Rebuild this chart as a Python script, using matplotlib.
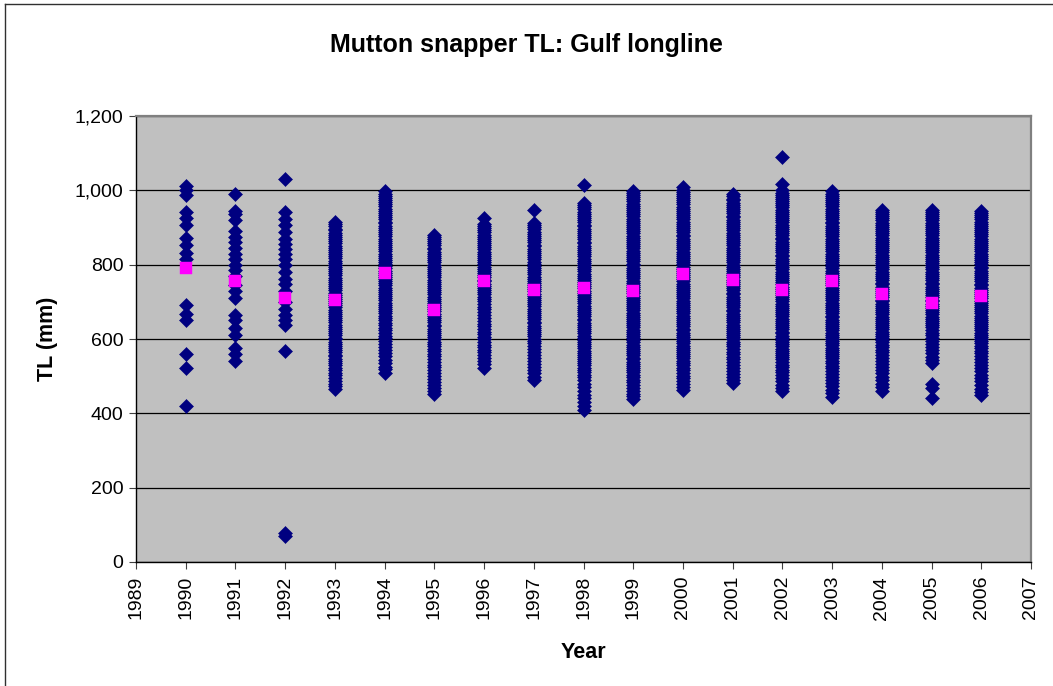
import matplotlib
matplotlib.use("Agg")
import matplotlib.pyplot as plt
from matplotlib.lines import Line2D
from matplotlib.ticker import FuncFormatter, MultipleLocator

# Total length (mm) of individual fish sampled each year
tl_1990 = [1012, 1000, 988, 943, 925, 908, 872, 852, 832, 814, 691, 668, 650, 559, 523, 420]
tl_1991 = [990, 945, 935, 920, 890, 875, 860, 845, 830, 815, 800, 785, 770, 745, 730, 710,
           665, 650, 630, 610, 575, 560, 540]
tl_1992 = [1031, 943, 924, 906, 888, 870, 856, 843, 830, 816, 798, 780, 762, 749, 730, 700,
           682, 664, 650, 639, 568, 78, 70]
tl_1993 = [915, 909, 903, 897, 892, 886, 880, 875, 869, 863, 857, 851, 846, 840, 834, 828,
           823, 817, 811, 805, 800, 794, 788, 782, 777, 771, 765, 760, 754, 748, 742, 737,
           731, 725, 719, 714, 708, 702, 696, 691, 685, 679, 673, 668, 662, 656, 650, 645,
           639, 633, 627, 622, 616, 610, 604, 599, 593, 587, 581, 576, 570, 564, 558, 553,
           547, 541, 535, 529, 522, 516, 509, 502, 495, 487, 480, 473, 466]
tl_1994 = [997, 991, 985, 980, 974, 968, 962, 957, 951, 945, 939, 934, 928, 922, 916, 911,
           905, 899, 893, 888, 882, 876, 870, 865, 859, 853, 847, 842, 836, 830, 824, 819,
           813, 807, 801, 796, 790, 784, 778, 773, 767, 761, 755, 750, 744, 738, 732, 727,
           721, 715, 709, 704, 698, 692, 686, 681, 675, 669, 663, 657, 650, 644, 637, 630,
           623, 616, 609, 602, 594, 586, 578, 570, 562, 553, 544, 535, 526, 518, 509]
tl_1995 = [881, 875, 869, 864, 858, 852, 846, 841, 835, 829, 823, 818, 812, 806, 800, 795,
           789, 783, 777, 772, 766, 760, 754, 749, 743, 737, 731, 726, 720, 714, 708, 703,
           697, 691, 685, 680, 674, 668, 662, 657, 651, 645, 639, 634, 628, 622, 616, 611,
           605, 599, 593, 587, 580, 574, 567, 560, 553, 546, 539, 531, 524, 516, 508, 500,
           492, 484, 476, 468, 460, 451]
tl_1996 = [926, 910, 904, 898, 893, 887, 881, 875, 870, 864, 858, 852, 847, 841, 835, 829,
           824, 818, 812, 806, 801, 795, 789, 783, 778, 772, 766, 760, 755, 749, 743, 737,
           732, 726, 720, 714, 708, 701, 694, 687, 680, 672, 664, 656, 648, 641, 634, 627,
           620, 613, 606, 599, 592, 585, 578, 571, 564, 557, 549, 541, 532, 523]
tl_1997 = [948, 912, 906, 900, 895, 889, 883, 877, 872, 866, 860, 854, 849, 843, 837, 831,
           826, 820, 814, 808, 803, 797, 791, 785, 780, 774, 768, 762, 757, 751, 745, 739,
           734, 728, 722, 716, 711, 705, 699, 693, 688, 682, 676, 670, 665, 659, 653, 647,
           642, 636, 630, 624, 619, 613, 607, 601, 595, 588, 581, 574, 566, 558, 550, 542,
           534, 525, 516, 508, 499, 491]
tl_1998 = [1015, 966, 960, 954, 949, 943, 937, 931, 926, 920, 914, 908, 903, 897, 891, 885,
           880, 874, 868, 862, 857, 851, 845, 839, 834, 828, 822, 816, 811, 805, 799, 793,
           788, 782, 776, 770, 765, 759, 753, 747, 742, 736, 730, 724, 719, 713, 707, 701,
           696, 690, 684, 678, 673, 667, 661, 655, 650, 644, 638, 632, 627, 621, 615, 609,
           604, 598, 592, 586, 581, 575, 569, 563, 558, 552, 546, 540, 535, 529, 523, 517,
           511, 504, 497, 489, 480, 470, 460, 450, 440, 430, 420, 409]
tl_1999 = [999, 993, 987, 982, 976, 970, 964, 959, 953, 947, 941, 936, 930, 924, 918, 913,
           907, 901, 895, 890, 884, 878, 872, 867, 861, 855, 849, 844, 838, 832, 826, 821,
           815, 809, 803, 798, 792, 786, 780, 775, 769, 763, 757, 752, 746, 740, 734, 729,
           723, 717, 711, 706, 700, 694, 688, 683, 677, 671, 665, 660, 654, 648, 642, 637,
           631, 625, 619, 614, 608, 602, 596, 591, 585, 579, 573, 568, 562, 556, 550, 545,
           539, 533, 527, 522, 516, 510, 504, 498, 491, 484, 476, 468, 460, 452, 446, 439]
tl_2000 = [1008, 1002, 996, 991, 985, 979, 973, 968, 962, 956, 950, 945, 939, 933, 927, 922,
           916, 910, 904, 899, 893, 887, 881, 876, 870, 864, 858, 853, 847, 841, 835, 830,
           824, 818, 812, 807, 801, 795, 789, 784, 778, 772, 766, 761, 755, 749, 743, 738,
           732, 726, 720, 715, 709, 703, 697, 692, 686, 680, 674, 669, 663, 657, 651, 646,
           640, 634, 628, 623, 617, 611, 605, 600, 594, 588, 582, 577, 571, 565, 559, 554,
           548, 542, 536, 530, 523, 516, 509, 501, 494, 486, 479, 471, 464]
tl_2001 = [990, 984, 978, 973, 967, 961, 955, 950, 944, 938, 932, 927, 921, 915, 909, 904,
           898, 892, 886, 881, 875, 869, 863, 858, 852, 846, 840, 835, 829, 823, 817, 812,
           806, 800, 794, 789, 783, 777, 771, 766, 760, 754, 748, 743, 737, 731, 725, 720,
           714, 708, 702, 697, 691, 685, 679, 674, 668, 662, 656, 651, 645, 639, 633, 628,
           622, 616, 610, 605, 599, 593, 587, 580, 573, 566, 559, 552, 545, 538, 530, 522,
           514, 506, 498, 489, 481]
tl_2002 = [1090, 1017, 1000, 994, 988, 983, 977, 971, 965, 960, 954, 948, 942, 937, 931, 925,
           919, 914, 908, 902, 896, 891, 885, 879, 873, 868, 862, 856, 850, 845, 839, 833,
           827, 822, 816, 810, 804, 799, 793, 787, 781, 776, 770, 764, 758, 753, 747, 741,
           735, 730, 724, 718, 712, 707, 701, 695, 689, 684, 678, 672, 666, 661, 655, 649,
           643, 638, 632, 626, 620, 615, 609, 603, 597, 592, 586, 580, 574, 569, 563, 557,
           551, 545, 538, 531, 524, 517, 510, 502, 494, 486, 477, 468, 460]
tl_2003 = [997, 991, 985, 980, 974, 968, 962, 957, 951, 945, 939, 934, 928, 922, 916, 911,
           905, 899, 893, 888, 882, 876, 870, 865, 859, 853, 847, 842, 836, 830, 824, 819,
           813, 807, 801, 796, 790, 784, 778, 773, 767, 761, 755, 750, 744, 738, 732, 727,
           721, 715, 709, 704, 698, 692, 686, 681, 675, 669, 663, 658, 652, 646, 640, 635,
           629, 623, 617, 612, 606, 600, 594, 589, 583, 577, 571, 566, 560, 554, 548, 542,
           535, 528, 521, 514, 506, 498, 490, 482, 473, 464, 455, 445]
tl_2004 = [948, 942, 936, 931, 925, 919, 913, 908, 902, 896, 890, 885, 879, 873, 867, 862,
           856, 850, 844, 839, 833, 827, 821, 816, 810, 804, 798, 793, 787, 781, 775, 770,
           764, 758, 752, 747, 741, 735, 729, 724, 718, 712, 706, 701, 695, 689, 683, 678,
           672, 666, 660, 655, 649, 643, 637, 632, 626, 620, 614, 609, 603, 597, 591, 585,
           578, 571, 564, 557, 549, 541, 533, 525, 517, 508, 499, 490, 480, 470, 460]
tl_2005 = [948, 942, 936, 931, 925, 919, 913, 908, 902, 896, 890, 885, 879, 873, 867, 862,
           856, 850, 844, 839, 833, 827, 821, 816, 810, 804, 798, 793, 787, 781, 775, 770,
           764, 758, 752, 747, 741, 735, 729, 724, 718, 712, 706, 701, 695, 689, 683, 678,
           672, 666, 660, 655, 649, 643, 637, 631, 624, 617, 610, 602, 594, 586, 578, 570,
           561, 552, 543, 535, 480, 468, 440]
tl_2006 = [945, 939, 933, 928, 922, 916, 910, 905, 899, 893, 887, 882, 876, 870, 864, 859,
           853, 847, 841, 836, 830, 824, 818, 813, 807, 801, 795, 790, 784, 778, 772, 767,
           761, 755, 749, 744, 738, 732, 726, 721, 715, 709, 703, 698, 692, 686, 680, 675,
           669, 663, 657, 652, 646, 640, 634, 629, 623, 617, 611, 606, 600, 594, 588, 582,
           575, 568, 561, 554, 546, 538, 530, 522, 513, 504, 495, 486, 476, 466, 457, 448]

years = list(range(1990, 2007))
mean_tl = [790, 756, 711, 706, 778, 679, 756, 733, 737, 728, 774, 760, 733, 756, 720, 698, 715]

samples = [tl_1990, tl_1991, tl_1992, tl_1993, tl_1994, tl_1995, tl_1996, tl_1997, tl_1998,
           tl_1999, tl_2000, tl_2001, tl_2002, tl_2003, tl_2004, tl_2005, tl_2006]

plt.rcParams["font.family"] = ["Liberation Sans", "DejaVu Sans"]

W, H = 1053, 686
fig = plt.figure(figsize=(W / 100, H / 100), dpi=100)
fig.patch.set_facecolor("white")

# chart-area frame (left and top edges)
fig.add_artist(Line2D([5 / W, 5 / W], [0, 1 - 4 / H], transform=fig.transFigure,
                      color="#303030", lw=1.0))
fig.add_artist(Line2D([5 / W, 1], [1 - 4 / H, 1 - 4 / H], transform=fig.transFigure,
                      color="#303030", lw=1.0))

left, right, top, bottom = 136, 1031, 116, 562
ax = fig.add_axes([left / W, 1 - bottom / H, (right - left) / W, (bottom - top) / H])
ax.set_facecolor("#C0C0C0")

for yr, vals in zip(years, samples):
    ax.plot([yr] * len(vals), vals, linestyle="none", marker="D", markersize=7.6,
            markerfacecolor="#000080", markeredgecolor="#000080", markeredgewidth=0.4,
            zorder=3)

ax.plot(years, mean_tl, linestyle="none", marker="s", markersize=8.4,
        markerfacecolor="#FF00FF", markeredgecolor="#FF00FF", markeredgewidth=0.3, zorder=4)

ax.set_xlim(1989, 2007)
ax.set_ylim(0, 1200)
ax.xaxis.set_major_locator(MultipleLocator(1))
ax.yaxis.set_major_locator(MultipleLocator(200))
ax.yaxis.set_major_formatter(FuncFormatter(lambda v, p: f"{int(v):,}"))

ax.grid(axis="y", color="black", linewidth=0.9, zorder=1)
ax.set_axisbelow(True)

for s in ("left", "bottom"):
    ax.spines[s].set_color("black")
    ax.spines[s].set_linewidth(1.0)
for s in ("top", "right"):
    ax.spines[s].set_color("#808080")
    ax.spines[s].set_linewidth(1.6)

ax.tick_params(axis="both", direction="out", length=5, width=0.8, color="#404040",
               labelsize=14, pad=4)
ax.tick_params(axis="x", labelrotation=90, pad=5)

ax.set_xlabel("Year", fontsize=15.5, fontweight="bold", labelpad=16)
ax.set_ylabel("TL (mm)", fontsize=15.5, fontweight="bold", labelpad=12)
fig.text(0.5, 1 - 45 / H, "Mutton snapper TL: Gulf longline", ha="center", va="center",
         fontsize=18, fontweight="bold")

fig.savefig("out.png", dpi=100)
